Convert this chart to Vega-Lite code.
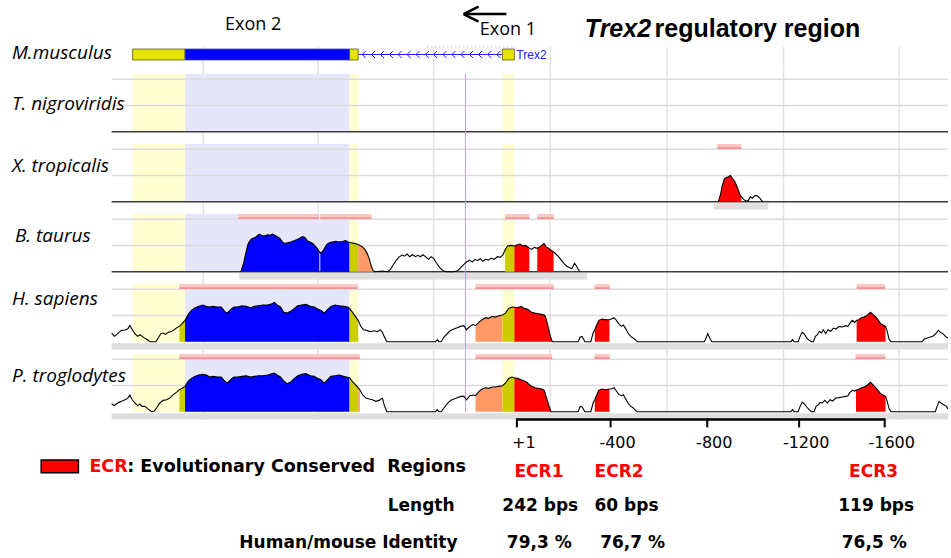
{
"$schema": "https://vega.github.io/schema/vega-lite/v6.json",
"width": 951, "height": 558,
"autosize": {"type": "fit", "contains": "padding"},
"padding": 0,
"background": "white",
"config": {"view": {"stroke": null}},
"datasets": {
"shade": [{"p":63,"p2":221,"c":50,"c2":105.06,"k":"UTR region"},{"p":221,"p2":716,"c":50,"c2":105.06,"k":"exon region"},{"p":716,"p2":742,"c":50,"c2":105.06,"k":"UTR region"},{"p":1176,"p2":1212,"c":50,"c2":105.06,"k":"UTR region"}],
"vgrid": [{"p":276,"c":42.4,"c2":109.2},{"p":621,"c":42.4,"c2":109.2},{"p":969,"c":42.4,"c2":109.2},{"p":1320,"c":42.4,"c2":109.2},{"p":1671,"c":42.4,"c2":109.2},{"p":2022,"c":42.4,"c2":109.2},{"p":2370,"c":42.4,"c2":109.2}],
"hgrid": [{"p":0,"p2":2517,"c":100},{"p":0,"p2":2517,"c":75}],
"base": [{"p":0,"p2":2517,"c":50}],
"marker": [{"p":1065,"c":42.4,"c2":109.2}],
"cover": [{"sp":"X","p":1812,"p2":1976,"c":42.5,"c2":48.6},{"sp":"B","p":384,"p2":1431,"c":42.5,"c2":48.6},{"sp":"H","p":0,"p2":2517,"c":42.5,"c2":48.6},{"sp":"P","p":0,"p2":2517,"c":42.5,"c2":48.6}],
"ecr": [{"sp":"X","p":1822,"p2":1895,"c":100.3,"c2":105.06,"c3":102},{"sp":"B","p":382,"p2":624,"c":100.3,"c2":105.06,"c3":102},{"sp":"B","p":628,"p2":782,"c":100.3,"c2":105.06,"c3":102},{"sp":"B","p":1185,"p2":1257,"c":100.3,"c2":105.06,"c3":102},{"sp":"B","p":1281,"p2":1330,"c":100.3,"c2":105.06,"c3":102},{"sp":"H","p":204,"p2":741,"c":100.3,"c2":105.06,"c3":102},{"sp":"H","p":1095,"p2":1330,"c":100.3,"c2":105.06,"c3":102},{"sp":"H","p":1453,"p2":1499,"c":100.3,"c2":105.06,"c3":102},{"sp":"H","p":2242,"p2":2328,"c":100.3,"c2":105.06,"c3":102},{"sp":"P","p":204,"p2":747,"c":100.3,"c2":105.06,"c3":102},{"sp":"P","p":1095,"p2":1326,"c":100.3,"c2":105.06,"c3":102},{"sp":"P","p":1453,"p2":1499,"c":100.3,"c2":105.06,"c3":102},{"sp":"P","p":2239,"p2":2328,"c":100.3,"c2":105.06,"c3":102}],
"xtro": [{"p":1826,"c":50,"s":"X1","k":"ECR"},{"p":1832,"c":56.4,"s":"X1","k":"ECR"},{"p":1838,"c":65.9,"s":"X1","k":"ECR"},{"p":1844,"c":71.9,"s":"X1","k":"ECR"},{"p":1850,"c":73.2,"s":"X1","k":"ECR"},{"p":1856,"c":73.9,"s":"X1","k":"ECR"},{"p":1862,"c":75.1,"s":"X1","k":"ECR"},{"p":1868,"c":72.3,"s":"X1","k":"ECR"},{"p":1874,"c":70,"s":"X1","k":"ECR"},{"p":1880,"c":65.9,"s":"X1","k":"ECR"},{"p":1886,"c":61.1,"s":"X1","k":"ECR"},{"p":1892,"c":56,"s":"X1","k":"ECR"},{"p":1895,"c":54.8,"s":"X1","k":"ECR"},{"p":1902,"c":52.2},{"p":1909,"c":50.6},{"p":1916,"c":51},{"p":1922,"c":54.8},{"p":1928,"c":53.2},{"p":1934,"c":55.4},{"p":1940,"c":56},{"p":1946,"c":54.8},{"p":1952,"c":52.9},{"p":1956,"c":51},{"p":1960,"c":50}],
"btau": [{"p":389,"c":50,"s":"B1","k":"CDS"},{"p":397,"c":58,"s":"B1","k":"CDS"},{"p":404,"c":68.1,"s":"B1","k":"CDS"},{"p":411,"c":77,"s":"B1","k":"CDS"},{"p":419,"c":80.8,"s":"B1","k":"CDS"},{"p":427,"c":82.1,"s":"B1","k":"CDS"},{"p":435,"c":83.4,"s":"B1","k":"CDS"},{"p":444,"c":85.9,"s":"B1","k":"CDS"},{"p":451,"c":84.7,"s":"B1","k":"CDS"},{"p":459,"c":84,"s":"B1","k":"CDS"},{"p":469,"c":85.3,"s":"B1","k":"CDS"},{"p":477,"c":84.7,"s":"B1","k":"CDS"},{"p":484,"c":85.9,"s":"B1","k":"CDS"},{"p":491,"c":84.7,"s":"B1","k":"CDS"},{"p":499,"c":83.4,"s":"B1","k":"CDS"},{"p":507,"c":81.5,"s":"B1","k":"CDS"},{"p":514,"c":78.3,"s":"B1","k":"CDS"},{"p":521,"c":77,"s":"B1","k":"CDS"},{"p":529,"c":77.7,"s":"B1","k":"CDS"},{"p":539,"c":78.3,"s":"B1","k":"CDS"},{"p":549,"c":79.6,"s":"B1","k":"CDS"},{"p":559,"c":80.8,"s":"B1","k":"CDS"},{"p":567,"c":82.1,"s":"B1","k":"CDS"},{"p":574,"c":83.4,"s":"B1","k":"CDS"},{"p":581,"c":82.8,"s":"B1","k":"CDS"},{"p":589,"c":79.6,"s":"B1","k":"CDS"},{"p":597,"c":78.3,"s":"B1","k":"CDS"},{"p":605,"c":77,"s":"B1","k":"CDS"},{"p":614,"c":73.9,"s":"B1","k":"CDS"},{"p":621,"c":71.3,"s":"B1","k":"CDS"},{"p":625,"c":69,"s":"B1","k":"CDS"},{"p":628,"c":68.1,"s":"B2","k":"CDS"},{"p":633,"c":68.8,"s":"B2","k":"CDS"},{"p":639,"c":71.3,"s":"B2","k":"CDS"},{"p":647,"c":75.8,"s":"B2","k":"CDS"},{"p":655,"c":77.7,"s":"B2","k":"CDS"},{"p":664,"c":78.3,"s":"B2","k":"CDS"},{"p":674,"c":78.9,"s":"B2","k":"CDS"},{"p":684,"c":78.3,"s":"B2","k":"CDS"},{"p":694,"c":78.9,"s":"B2","k":"CDS"},{"p":704,"c":79.6,"s":"B2","k":"CDS"},{"p":712,"c":78.3,"s":"B2","k":"CDS"},{"p":716,"c":77.9,"s":"B2","k":"CDS"},{"p":716,"c":77.9,"s":"B3","k":"UTR"},{"p":731,"c":77,"s":"B3","k":"UTR"},{"p":742,"c":76,"s":"B3","k":"UTR"},{"p":742,"c":76,"s":"B4","k":"intron"},{"p":754,"c":73.9,"s":"B4","k":"intron"},{"p":762,"c":71.3,"s":"B4","k":"intron"},{"p":769,"c":67.5,"s":"B4","k":"intron"},{"p":775,"c":62.7,"s":"B4","k":"intron"},{"p":781,"c":55.4,"s":"B4","k":"intron"},{"p":787,"c":51,"s":"B4","k":"intron"},{"p":794,"c":50},{"p":814,"c":50.6},{"p":831,"c":50},{"p":839,"c":52.2},{"p":847,"c":56.4},{"p":856,"c":60.5},{"p":864,"c":63.7},{"p":874,"c":65.9},{"p":881,"c":64.9},{"p":889,"c":66.9},{"p":897,"c":64.3},{"p":905,"c":66.2},{"p":914,"c":64.3},{"p":922,"c":65.6},{"p":929,"c":64.3},{"p":937,"c":66.2},{"p":947,"c":63.7},{"p":954,"c":61.8},{"p":961,"c":64.3},{"p":969,"c":62.7},{"p":977,"c":58.6},{"p":987,"c":54.1},{"p":997,"c":51},{"p":1009,"c":50},{"p":1029,"c":50},{"p":1041,"c":51},{"p":1051,"c":54.1},{"p":1061,"c":57.3},{"p":1069,"c":59.5},{"p":1077,"c":61.1},{"p":1085,"c":59.2},{"p":1093,"c":61.8},{"p":1101,"c":60.5},{"p":1109,"c":62.4},{"p":1117,"c":59.9},{"p":1125,"c":61.8},{"p":1134,"c":61.1},{"p":1142,"c":63},{"p":1151,"c":61.8},{"p":1161,"c":64.3},{"p":1169,"c":63.7},{"p":1177,"c":65.9},{"p":1184,"c":70.7,"s":"B5","k":"UTR"},{"p":1191,"c":74.5,"s":"B5","k":"UTR"},{"p":1201,"c":75.1,"s":"B5","k":"UTR"},{"p":1212,"c":74.5,"s":"B5","k":"UTR"},{"p":1212,"c":74.5,"s":"B6","k":"ECR"},{"p":1221,"c":75.8,"s":"B6","k":"ECR"},{"p":1229,"c":76.4,"s":"B6","k":"ECR"},{"p":1237,"c":74.5,"s":"B6","k":"ECR"},{"p":1245,"c":75.1,"s":"B6","k":"ECR"},{"p":1257,"c":72.6,"s":"B6","k":"ECR"},{"p":1264,"c":71.3},{"p":1272,"c":73.2},{"p":1281,"c":72.3,"s":"B7","k":"ECR"},{"p":1289,"c":73.9,"s":"B7","k":"ECR"},{"p":1297,"c":75.8,"s":"B7","k":"ECR"},{"p":1301,"c":77,"s":"B7","k":"ECR"},{"p":1307,"c":73.9,"s":"B7","k":"ECR"},{"p":1314,"c":72.6,"s":"B7","k":"ECR"},{"p":1321,"c":70.7,"s":"B7","k":"ECR"},{"p":1330,"c":68.8,"s":"B7","k":"ECR"},{"p":1337,"c":66.9},{"p":1345,"c":64.3},{"p":1353,"c":61.1},{"p":1361,"c":58},{"p":1369,"c":55.4},{"p":1377,"c":54.1},{"p":1385,"c":52.9},{"p":1393,"c":58},{"p":1399,"c":55.4},{"p":1404,"c":52.2},{"p":1409,"c":50}],
"hsap": [{"p":0,"c":58.3},{"p":8,"c":55.1},{"p":15,"c":56.7},{"p":22,"c":58.9},{"p":30,"c":60.8},{"p":40,"c":61.1},{"p":48,"c":62.1},{"p":55,"c":65.6},{"p":62,"c":61.4},{"p":70,"c":57.6},{"p":78,"c":55.1},{"p":85,"c":56.7},{"p":92,"c":55.1},{"p":100,"c":53.2},{"p":108,"c":51.9},{"p":115,"c":50},{"p":133,"c":50},{"p":140,"c":53.5},{"p":148,"c":57.6},{"p":155,"c":58.3},{"p":162,"c":57},{"p":170,"c":58.9},{"p":178,"c":59.5},{"p":186,"c":60.8},{"p":195,"c":63},{"p":204,"c":64.6,"s":"H1","k":"UTR"},{"p":212,"c":67.2,"s":"H1","k":"UTR"},{"p":221,"c":70.4,"s":"H1","k":"UTR"},{"p":221,"c":70.4,"s":"H2","k":"CDS"},{"p":230,"c":75.8,"s":"H2","k":"CDS"},{"p":240,"c":79.9,"s":"H2","k":"CDS"},{"p":250,"c":82.1,"s":"H2","k":"CDS"},{"p":262,"c":83.7,"s":"H2","k":"CDS"},{"p":275,"c":85,"s":"H2","k":"CDS"},{"p":285,"c":83.7,"s":"H2","k":"CDS"},{"p":295,"c":83.1,"s":"H2","k":"CDS"},{"p":305,"c":83.7,"s":"H2","k":"CDS"},{"p":318,"c":83.1,"s":"H2","k":"CDS"},{"p":330,"c":83.1,"s":"H2","k":"CDS"},{"p":340,"c":78.9,"s":"H2","k":"CDS"},{"p":348,"c":77.3,"s":"H2","k":"CDS"},{"p":358,"c":80.5,"s":"H2","k":"CDS"},{"p":368,"c":83.1,"s":"H2","k":"CDS"},{"p":380,"c":83.1,"s":"H2","k":"CDS"},{"p":392,"c":84.3,"s":"H2","k":"CDS"},{"p":405,"c":83.7,"s":"H2","k":"CDS"},{"p":418,"c":82.4,"s":"H2","k":"CDS"},{"p":430,"c":83.7,"s":"H2","k":"CDS"},{"p":442,"c":84.3,"s":"H2","k":"CDS"},{"p":455,"c":85,"s":"H2","k":"CDS"},{"p":470,"c":85,"s":"H2","k":"CDS"},{"p":482,"c":86.3,"s":"H2","k":"CDS"},{"p":490,"c":87.5,"s":"H2","k":"CDS"},{"p":498,"c":85,"s":"H2","k":"CDS"},{"p":508,"c":83.1,"s":"H2","k":"CDS"},{"p":518,"c":78,"s":"H2","k":"CDS"},{"p":528,"c":77.3,"s":"H2","k":"CDS"},{"p":540,"c":79.3,"s":"H2","k":"CDS"},{"p":550,"c":81.8,"s":"H2","k":"CDS"},{"p":560,"c":84.3,"s":"H2","k":"CDS"},{"p":572,"c":85,"s":"H2","k":"CDS"},{"p":585,"c":85.6,"s":"H2","k":"CDS"},{"p":598,"c":83.7,"s":"H2","k":"CDS"},{"p":610,"c":83.1,"s":"H2","k":"CDS"},{"p":620,"c":81.2,"s":"H2","k":"CDS"},{"p":630,"c":79.9,"s":"H2","k":"CDS"},{"p":640,"c":77.3,"s":"H2","k":"CDS"},{"p":650,"c":80.5,"s":"H2","k":"CDS"},{"p":660,"c":83.7,"s":"H2","k":"CDS"},{"p":672,"c":85,"s":"H2","k":"CDS"},{"p":685,"c":84.3,"s":"H2","k":"CDS"},{"p":698,"c":83.7,"s":"H2","k":"CDS"},{"p":710,"c":83.1,"s":"H2","k":"CDS"},{"p":716,"c":81.8,"s":"H2","k":"CDS"},{"p":716,"c":81.8,"s":"H3","k":"UTR"},{"p":725,"c":78,"s":"H3","k":"UTR"},{"p":735,"c":73.5,"s":"H3","k":"UTR"},{"p":742,"c":70.4,"s":"H3","k":"UTR"},{"p":750,"c":64.6},{"p":758,"c":61.4},{"p":768,"c":60.8},{"p":778,"c":59.5},{"p":790,"c":60.5},{"p":800,"c":59.5},{"p":808,"c":61.4},{"p":815,"c":58.9},{"p":820,"c":55.1},{"p":828,"c":50},{"p":975,"c":50},{"p":980,"c":51.9},{"p":985,"c":50},{"p":992,"c":50},{"p":1000,"c":54.5},{"p":1010,"c":57.6},{"p":1020,"c":60.8},{"p":1030,"c":62.1},{"p":1040,"c":63.4},{"p":1050,"c":64.6},{"p":1060,"c":65.3},{"p":1068,"c":61.4},{"p":1078,"c":64.6},{"p":1088,"c":66.5},{"p":1095,"c":65.3,"s":"H4","k":"intron"},{"p":1105,"c":68.4,"s":"H4","k":"intron"},{"p":1115,"c":71,"s":"H4","k":"intron"},{"p":1125,"c":72.9,"s":"H4","k":"intron"},{"p":1135,"c":72.3,"s":"H4","k":"intron"},{"p":1145,"c":74.2,"s":"H4","k":"intron"},{"p":1155,"c":73.5,"s":"H4","k":"intron"},{"p":1165,"c":74.8,"s":"H4","k":"intron"},{"p":1176,"c":75.4,"s":"H4","k":"intron"},{"p":1176,"c":75.4,"s":"H5","k":"UTR"},{"p":1185,"c":77.3,"s":"H5","k":"UTR"},{"p":1195,"c":81.8,"s":"H5","k":"UTR"},{"p":1205,"c":83.1,"s":"H5","k":"UTR"},{"p":1212,"c":82.8,"s":"H5","k":"UTR"},{"p":1212,"c":82.8,"s":"H6","k":"ECR"},{"p":1222,"c":82.4,"s":"H6","k":"ECR"},{"p":1232,"c":83.7,"s":"H6","k":"ECR"},{"p":1242,"c":81.8,"s":"H6","k":"ECR"},{"p":1250,"c":81.2,"s":"H6","k":"ECR"},{"p":1254,"c":80.5,"s":"H6","k":"ECR"},{"p":1264,"c":78,"s":"H6","k":"ECR"},{"p":1274,"c":77.3,"s":"H6","k":"ECR"},{"p":1284,"c":76.7,"s":"H6","k":"ECR"},{"p":1294,"c":76.1,"s":"H6","k":"ECR"},{"p":1302,"c":75.4,"s":"H6","k":"ECR"},{"p":1306,"c":73.5,"s":"H6","k":"ECR"},{"p":1312,"c":66.2,"s":"H6","k":"ECR"},{"p":1319,"c":56.7,"s":"H6","k":"ECR"},{"p":1326,"c":50,"s":"H6","k":"ECR"},{"p":1404,"c":50},{"p":1410,"c":54.5},{"p":1416,"c":55.1},{"p":1424,"c":50},{"p":1442,"c":50},{"p":1449,"c":58.3},{"p":1454,"c":61.4,"s":"H7","k":"ECR"},{"p":1459,"c":65.3,"s":"H7","k":"ECR"},{"p":1466,"c":70.4,"s":"H7","k":"ECR"},{"p":1476,"c":71.6,"s":"H7","k":"ECR"},{"p":1486,"c":71,"s":"H7","k":"ECR"},{"p":1498,"c":71,"s":"H7","k":"ECR"},{"p":1504,"c":71.6},{"p":1512,"c":72.9},{"p":1519,"c":70.4},{"p":1526,"c":67.2},{"p":1534,"c":64.6},{"p":1540,"c":65.9},{"p":1546,"c":63},{"p":1554,"c":58.3},{"p":1562,"c":55.1},{"p":1569,"c":53.5},{"p":1576,"c":51.9},{"p":1582,"c":50},{"p":1784,"c":50},{"p":1789,"c":53.5},{"p":1794,"c":57.6},{"p":1800,"c":53.5},{"p":1806,"c":50},{"p":2044,"c":50},{"p":2049,"c":51.9},{"p":2054,"c":50},{"p":2066,"c":50},{"p":2072,"c":55.1},{"p":2078,"c":58.9},{"p":2084,"c":57.6},{"p":2092,"c":53.5},{"p":2099,"c":51.3},{"p":2106,"c":50},{"p":2112,"c":50},{"p":2118,"c":55.1},{"p":2124,"c":56.7},{"p":2130,"c":59.9},{"p":2136,"c":58.3},{"p":2142,"c":61.4},{"p":2149,"c":57.6},{"p":2156,"c":61.4},{"p":2164,"c":59.9},{"p":2172,"c":63},{"p":2180,"c":62.1},{"p":2189,"c":64.6},{"p":2199,"c":64},{"p":2209,"c":65.3},{"p":2216,"c":64.6},{"p":2222,"c":67.8},{"p":2229,"c":70.4},{"p":2236,"c":68.4},{"p":2242,"c":70.4,"s":"H8","k":"ECR"},{"p":2249,"c":71,"s":"H8","k":"ECR"},{"p":2256,"c":72.9,"s":"H8","k":"ECR"},{"p":2264,"c":73.5,"s":"H8","k":"ECR"},{"p":2272,"c":74.8,"s":"H8","k":"ECR"},{"p":2279,"c":76.7,"s":"H8","k":"ECR"},{"p":2284,"c":78,"s":"H8","k":"ECR"},{"p":2290,"c":76.1,"s":"H8","k":"ECR"},{"p":2298,"c":74.2,"s":"H8","k":"ECR"},{"p":2306,"c":71,"s":"H8","k":"ECR"},{"p":2314,"c":67.2,"s":"H8","k":"ECR"},{"p":2322,"c":65.9,"s":"H8","k":"ECR"},{"p":2329,"c":64.6,"s":"H8","k":"ECR"},{"p":2334,"c":59.9},{"p":2340,"c":51.9},{"p":2346,"c":50},{"p":2439,"c":50},{"p":2446,"c":52.5},{"p":2454,"c":53.5},{"p":2464,"c":54.5},{"p":2474,"c":55.7},{"p":2482,"c":58.3},{"p":2488,"c":60.8},{"p":2494,"c":58.9},{"p":2502,"c":57.6},{"p":2509,"c":55.1},{"p":2517,"c":53.5}],
"ptro": [{"p":0,"c":57.6},{"p":8,"c":55.7},{"p":15,"c":57.6},{"p":22,"c":58.9},{"p":30,"c":59.9},{"p":40,"c":61.4},{"p":48,"c":62.7},{"p":55,"c":65.9},{"p":62,"c":61.4},{"p":70,"c":58.3},{"p":78,"c":55.7},{"p":85,"c":57.3},{"p":92,"c":55.1},{"p":100,"c":55.1},{"p":110,"c":52.5},{"p":120,"c":50},{"p":128,"c":50.6},{"p":135,"c":53.5},{"p":145,"c":58.3},{"p":155,"c":60.8},{"p":165,"c":61.4},{"p":175,"c":63},{"p":185,"c":66.2},{"p":195,"c":68.4},{"p":204,"c":71,"s":"P1","k":"UTR"},{"p":212,"c":72.3,"s":"P1","k":"UTR"},{"p":221,"c":74.2,"s":"P1","k":"UTR"},{"p":221,"c":74.2,"s":"P2","k":"CDS"},{"p":230,"c":78.9,"s":"P2","k":"CDS"},{"p":240,"c":81.8,"s":"P2","k":"CDS"},{"p":250,"c":83.7,"s":"P2","k":"CDS"},{"p":262,"c":85,"s":"P2","k":"CDS"},{"p":275,"c":85.6,"s":"P2","k":"CDS"},{"p":285,"c":85,"s":"P2","k":"CDS"},{"p":295,"c":83.1,"s":"P2","k":"CDS"},{"p":305,"c":83.7,"s":"P2","k":"CDS"},{"p":318,"c":83.1,"s":"P2","k":"CDS"},{"p":330,"c":83.1,"s":"P2","k":"CDS"},{"p":340,"c":79.3,"s":"P2","k":"CDS"},{"p":348,"c":77.3,"s":"P2","k":"CDS"},{"p":358,"c":80.5,"s":"P2","k":"CDS"},{"p":368,"c":83.1,"s":"P2","k":"CDS"},{"p":380,"c":83.1,"s":"P2","k":"CDS"},{"p":392,"c":83.7,"s":"P2","k":"CDS"},{"p":405,"c":84.3,"s":"P2","k":"CDS"},{"p":418,"c":83.1,"s":"P2","k":"CDS"},{"p":430,"c":83.7,"s":"P2","k":"CDS"},{"p":442,"c":84.3,"s":"P2","k":"CDS"},{"p":455,"c":84.3,"s":"P2","k":"CDS"},{"p":470,"c":85,"s":"P2","k":"CDS"},{"p":482,"c":86.3,"s":"P2","k":"CDS"},{"p":490,"c":86.9,"s":"P2","k":"CDS"},{"p":498,"c":85,"s":"P2","k":"CDS"},{"p":508,"c":83.1,"s":"P2","k":"CDS"},{"p":518,"c":79.3,"s":"P2","k":"CDS"},{"p":528,"c":76.7,"s":"P2","k":"CDS"},{"p":540,"c":78.6,"s":"P2","k":"CDS"},{"p":550,"c":81.8,"s":"P2","k":"CDS"},{"p":560,"c":84.3,"s":"P2","k":"CDS"},{"p":572,"c":85.6,"s":"P2","k":"CDS"},{"p":585,"c":86.3,"s":"P2","k":"CDS"},{"p":598,"c":84.3,"s":"P2","k":"CDS"},{"p":610,"c":83.7,"s":"P2","k":"CDS"},{"p":620,"c":81.8,"s":"P2","k":"CDS"},{"p":630,"c":80.5,"s":"P2","k":"CDS"},{"p":640,"c":77.3,"s":"P2","k":"CDS"},{"p":650,"c":80.5,"s":"P2","k":"CDS"},{"p":660,"c":83.7,"s":"P2","k":"CDS"},{"p":672,"c":84.3,"s":"P2","k":"CDS"},{"p":685,"c":85,"s":"P2","k":"CDS"},{"p":698,"c":83.7,"s":"P2","k":"CDS"},{"p":716,"c":82.4,"s":"P2","k":"CDS"},{"p":716,"c":82.4,"s":"P3","k":"UTR"},{"p":725,"c":78.6,"s":"P3","k":"UTR"},{"p":735,"c":75.4,"s":"P3","k":"UTR"},{"p":742,"c":73,"s":"P3","k":"UTR"},{"p":742,"c":73,"s":"P3b","k":"intron"},{"p":747,"c":71,"s":"P3b","k":"intron"},{"p":755,"c":66.2},{"p":765,"c":63},{"p":775,"c":62.1},{"p":785,"c":61.4},{"p":795,"c":59.9},{"p":805,"c":60.8},{"p":815,"c":63},{"p":820,"c":56.7},{"p":828,"c":50},{"p":975,"c":50},{"p":980,"c":51.9},{"p":985,"c":50},{"p":992,"c":50},{"p":1000,"c":53.5},{"p":1010,"c":57.6},{"p":1020,"c":60.8},{"p":1030,"c":62.1},{"p":1040,"c":63.4},{"p":1050,"c":64.6},{"p":1060,"c":64.6},{"p":1068,"c":61.4},{"p":1078,"c":65.3},{"p":1088,"c":65.9},{"p":1095,"c":65.3,"s":"P4","k":"intron"},{"p":1105,"c":69.1,"s":"P4","k":"intron"},{"p":1115,"c":71.6,"s":"P4","k":"intron"},{"p":1125,"c":72.9,"s":"P4","k":"intron"},{"p":1135,"c":72.3,"s":"P4","k":"intron"},{"p":1145,"c":73.5,"s":"P4","k":"intron"},{"p":1155,"c":73.5,"s":"P4","k":"intron"},{"p":1165,"c":74.2,"s":"P4","k":"intron"},{"p":1176,"c":74.8,"s":"P4","k":"intron"},{"p":1176,"c":74.8,"s":"P5","k":"UTR"},{"p":1185,"c":77.3,"s":"P5","k":"UTR"},{"p":1195,"c":81.8,"s":"P5","k":"UTR"},{"p":1205,"c":83.1,"s":"P5","k":"UTR"},{"p":1212,"c":82.4,"s":"P5","k":"UTR"},{"p":1212,"c":82.4,"s":"P6","k":"ECR"},{"p":1222,"c":81.8,"s":"P6","k":"ECR"},{"p":1232,"c":80.5,"s":"P6","k":"ECR"},{"p":1242,"c":79.3,"s":"P6","k":"ECR"},{"p":1250,"c":78,"s":"P6","k":"ECR"},{"p":1254,"c":76.7,"s":"P6","k":"ECR"},{"p":1264,"c":74.2,"s":"P6","k":"ECR"},{"p":1274,"c":72.9,"s":"P6","k":"ECR"},{"p":1284,"c":72.3,"s":"P6","k":"ECR"},{"p":1294,"c":71.6,"s":"P6","k":"ECR"},{"p":1302,"c":70.4,"s":"P6","k":"ECR"},{"p":1309,"c":63,"s":"P6","k":"ECR"},{"p":1316,"c":55.7,"s":"P6","k":"ECR"},{"p":1322,"c":50,"s":"P6","k":"ECR"},{"p":1404,"c":50},{"p":1410,"c":55.1},{"p":1416,"c":54.5},{"p":1424,"c":50},{"p":1442,"c":50},{"p":1449,"c":58.3},{"p":1454,"c":61.4,"s":"P7","k":"ECR"},{"p":1459,"c":65.3,"s":"P7","k":"ECR"},{"p":1466,"c":70.4,"s":"P7","k":"ECR"},{"p":1476,"c":71.6,"s":"P7","k":"ECR"},{"p":1486,"c":71,"s":"P7","k":"ECR"},{"p":1498,"c":71.6,"s":"P7","k":"ECR"},{"p":1504,"c":71.6},{"p":1512,"c":72.9},{"p":1519,"c":69.7},{"p":1526,"c":66.5},{"p":1534,"c":65.3},{"p":1540,"c":66.2},{"p":1546,"c":62.7},{"p":1554,"c":58.3},{"p":1562,"c":55.1},{"p":1569,"c":53.8},{"p":1576,"c":51.3},{"p":1582,"c":50},{"p":2044,"c":50},{"p":2049,"c":51.9},{"p":2054,"c":50},{"p":2066,"c":50},{"p":2072,"c":55.1},{"p":2078,"c":58.9},{"p":2084,"c":57.6},{"p":2092,"c":54.5},{"p":2099,"c":51.9},{"p":2106,"c":50},{"p":2114,"c":50},{"p":2120,"c":55.1},{"p":2126,"c":56.4},{"p":2132,"c":58.9},{"p":2139,"c":58.3},{"p":2146,"c":60.8},{"p":2154,"c":58.3},{"p":2162,"c":61.4},{"p":2170,"c":60.2},{"p":2179,"c":63},{"p":2189,"c":63.4},{"p":2199,"c":64},{"p":2209,"c":64.6},{"p":2216,"c":65.3},{"p":2222,"c":68.4},{"p":2229,"c":70.4},{"p":2236,"c":69.7},{"p":2240,"c":70.4,"s":"P8","k":"ECR"},{"p":2249,"c":71.6,"s":"P8","k":"ECR"},{"p":2256,"c":72.6,"s":"P8","k":"ECR"},{"p":2264,"c":73.5,"s":"P8","k":"ECR"},{"p":2272,"c":74.8,"s":"P8","k":"ECR"},{"p":2279,"c":76.7,"s":"P8","k":"ECR"},{"p":2284,"c":78,"s":"P8","k":"ECR"},{"p":2290,"c":76.1,"s":"P8","k":"ECR"},{"p":2298,"c":73.5,"s":"P8","k":"ECR"},{"p":2306,"c":70.4,"s":"P8","k":"ECR"},{"p":2314,"c":67.2,"s":"P8","k":"ECR"},{"p":2322,"c":65.9,"s":"P8","k":"ECR"},{"p":2329,"c":64.6,"s":"P8","k":"ECR"},{"p":2334,"c":59.9},{"p":2340,"c":52.5},{"p":2346,"c":50},{"p":2479,"c":50},{"p":2484,"c":55.1},{"p":2490,"c":59.9},{"p":2496,"c":58.3},{"p":2504,"c":56.7},{"p":2512,"c":55.1},{"p":2517,"c":52.5}]
},
"encoding": {"x": {"field": "p", "type": "quantitative", "scale": {"domain": [-336, 2517], "nice": false, "zero": false}, "axis": null}},
"resolve": {"scale": {"y": "independent"}},
"layer": [
{
"encoding": {"y": {"field": "c", "type": "quantitative", "scale": {"domain": [-45.77, 4.955], "nice": false, "zero": false}, "axis": null}},
"layer": [
{"data": {"values": [{"p":276,"c":0.68,"c2":-1.38},{"p":621,"c":0.68,"c2":-1.38},{"p":969,"c":0.68,"c2":-1.38},{"p":1320,"c":0.68,"c2":-1.38},{"p":1671,"c":0.68,"c2":-1.38},{"p":2022,"c":0.68,"c2":-1.38},{"p":2370,"c":0.68,"c2":-1.38}]}, "mark": {"type": "rule", "color": "#e3e3e3", "strokeWidth": 1.5}, "encoding": {"y2": {"field": "c2"}}},
{"data": {"values": [{"p": 948, "p2": 1215, "c": 0.68}]}, "mark": {"type": "rule", "color": "#c4c4c4", "strokeWidth": 1, "strokeDash": [2, 2]}, "encoding": {"x2": {"field": "p2"}}},
{"data": {"values": [{"p": 742, "p2": 1176, "c": 0}]}, "mark": {"type": "rule", "color": "#2020ff", "strokeWidth": 1}, "encoding": {"x2": {"field": "p2"}}},
{"data": {"values": [{"p":754,"c":0},{"p":782,"c":0},{"p":809,"c":0},{"p":836,"c":0},{"p":862,"c":0},{"p":889,"c":0},{"p":916,"c":0},{"p":944,"c":0},{"p":969,"c":0},{"p":997,"c":0},{"p":1024,"c":0},{"p":1051,"c":0},{"p":1077,"c":0},{"p":1104,"c":0},{"p":1132,"c":0},{"p":1159,"c":0}]}, "mark": {"type": "point", "shape": "M1,-1L0,0L1,1", "size": 49, "filled": false, "stroke": "#2020ff", "strokeWidth": 1, "opacity": 1}, "encoding": {}},
{"data": {"values": [{"p": 63, "p2": 221, "c": -0.5, "c2": 0.5}, {"p": 716, "p2": 742, "c": -0.5, "c2": 0.5}, {"p": 1176, "p2": 1212, "c": -0.5, "c2": 0.5}]}, "mark": {"type": "rect", "color": "#e4e400", "stroke": "#5a5a20", "strokeWidth": 0.8}, "encoding": {"x2": {"field": "p2"}, "y2": {"field": "c2"}}},
{"data": {"values": [{"p": 221, "p2": 716, "c": -0.5, "c2": 0.5}]}, "mark": {"type": "rect", "color": "#0000ff", "stroke": "#4a4ab0", "strokeWidth": 0.8}, "encoding": {"x2": {"field": "p2"}, "y2": {"field": "c2"}}},
{"data": {"values": [{"p": 1218, "c": 0, "t": "Trex2"}]}, "mark": {"type": "text", "align": "left", "baseline": "middle", "font": "Liberation Sans", "fontSize": 12, "color": "#2020ff"}, "encoding": {"text": {"field": "t"}}},
{"data": {"values": [{"p": -300, "c": 0.1, "t": "M.musculus"}]}, "mark": {"type": "text", "align": "left", "baseline": "middle", "font": "Open Sans", "fontStyle": "italic", "fontSize": 19, "color": "#000"}, "encoding": {"text": {"field": "t"}}},
{"data": {"values": [{"p": 426, "c": 2.64, "t": "Exon 2"}, {"p": 1192.5, "c": 2.23, "t": "Exon 1"}]}, "mark": {"type": "text", "align": "center", "baseline": "middle", "font": "Open Sans", "fontSize": 18, "color": "#000"}, "encoding": {"text": {"field": "t"}}},
{"data": {"values": [{"p": 1061, "p2": 1188, "c": 3.68}]}, "mark": {"type": "rule", "color": "#000", "strokeWidth": 2.5}, "encoding": {"x2": {"field": "p2"}}},
{"data": {"values": [{"p": 1059, "c": 3.68}]}, "mark": {"type": "point", "shape": "M0,0L2,-1M0,0L2,1", "size": 225, "filled": false, "stroke": "#000", "strokeWidth": 2.5, "opacity": 1}, "encoding": {}},
{"data": {"values": [{"p": 1424, "c": 1.6, "t": "Trex2"}]}, "mark": {"type": "text", "align": "left", "baseline": "alphabetic", "font": "Liberation Sans", "fontSize": 25, "fontWeight": "bold", "fontStyle": "italic", "color": "#000"}, "encoding": {"text": {"field": "t"}}},
{"data": {"values": [{"p": 1634, "c": 1.6, "t": "regulatory region"}]}, "mark": {"type": "text", "align": "left", "baseline": "alphabetic", "font": "Liberation Sans", "fontSize": 25, "fontWeight": "bold", "color": "#000"}, "encoding": {"text": {"field": "t"}}}
]
},
{
"encoding": {"y": {"field": "c", "type": "quantitative", "scale": {"domain": [-356.77, 175.67], "nice": false, "zero": false}, "axis": null}},
"layer": [
{"data": {"name": "vgrid"}, "mark": {"type": "rule", "color": "#e3e3e3", "strokeWidth": 1.5}, "encoding": {"y2": {"field": "c2"}}},
{"data": {"name": "shade"}, "mark": {"type": "rect"}, "encoding": {"x2": {"field": "p2"}, "y2": {"field": "c2"}, "color": {"field": "k", "type": "nominal", "legend": null, "scale": {"domain": ["CDS", "UTR", "intron", "ECR", "UTR region", "exon region"], "range": ["#0000ff", "#cccc00", "#ff9966", "#ff0000", "#ffffd2", "#e6e6fa"]}}}},
{"data": {"name": "hgrid"}, "mark": {"type": "rule", "color": "#dcdcdc", "strokeWidth": 1.5}, "encoding": {"x2": {"field": "p2"}}},
{"data": {"name": "base"}, "mark": {"type": "rule", "color": "#3c3c3c", "strokeWidth": 1.5}, "encoding": {"x2": {"field": "p2"}}},
{"data": {"values": [{"p": 1065, "c": 42.4, "c2": 105.7}]}, "mark": {"type": "rule", "color": "#ea88ea", "strokeWidth": 1}, "encoding": {"y2": {"field": "c2"}}},
{"data": {"values": [{"p": -300, "c": 76.1, "t": "T. nigroviridis"}]}, "mark": {"type": "text", "align": "left", "baseline": "middle", "font": "Open Sans", "fontStyle": "italic", "fontSize": 19, "color": "#000"}, "encoding": {"text": {"field": "t"}}}
]
},
{
"encoding": {"y": {"field": "c", "type": "quantitative", "scale": {"domain": [-289.98, 242.46], "nice": false, "zero": false}, "axis": null}},
"layer": [
{"data": {"name": "vgrid"}, "mark": {"type": "rule", "color": "#e3e3e3", "strokeWidth": 1.5}, "encoding": {"y2": {"field": "c2"}}},
{"data": {"name": "shade"}, "mark": {"type": "rect"}, "encoding": {"x2": {"field": "p2"}, "y2": {"field": "c2"}, "color": {"field": "k", "type": "nominal", "legend": null, "scale": {"domain": ["CDS", "UTR", "intron", "ECR", "UTR region", "exon region"], "range": ["#0000ff", "#cccc00", "#ff9966", "#ff0000", "#ffffd2", "#e6e6fa"]}}}},
{"data": {"name": "hgrid"}, "mark": {"type": "rule", "color": "#dcdcdc", "strokeWidth": 1.5}, "encoding": {"x2": {"field": "p2"}}},
{"data": {"name": "base"}, "mark": {"type": "rule", "color": "#3c3c3c", "strokeWidth": 1.5}, "encoding": {"x2": {"field": "p2"}}},
{"data": {"name": "cover"}, "transform": [{"filter": "datum.sp === 'X'"}], "mark": {"type": "rect", "color": "#dedede"}, "encoding": {"x2": {"field": "p2"}, "y2": {"field": "c2"}}},
{"data": {"name": "marker"}, "mark": {"type": "rule", "color": "#ea88ea", "strokeWidth": 1}, "encoding": {"y2": {"field": "c2"}}},
{"data": {"name": "ecr"}, "transform": [{"filter": "datum.sp === 'X'"}], "mark": {"type": "rect", "color": "#ffc6c6"}, "encoding": {"x2": {"field": "p2"}, "y2": {"field": "c2"}}},
{"data": {"name": "ecr"}, "transform": [{"filter": "datum.sp === 'X'"}], "mark": {"type": "rect", "color": "#f29494"}, "encoding": {"x2": {"field": "p2"}, "y2": {"field": "c3"}}},
{"data": {"name": "xtro"}, "transform": [{"filter": "isValid(datum.s)"}], "mark": {"type": "area", "opacity": 1}, "encoding": {"y2": {"datum": 50}, "detail": {"field": "s"}, "color": {"field": "k", "type": "nominal", "legend": null, "scale": {"domain": ["CDS", "UTR", "intron", "ECR", "UTR region", "exon region"], "range": ["#0000ff", "#cccc00", "#ff9966", "#ff0000", "#ffffd2", "#e6e6fa"]}}}},
{"data": {"name": "xtro"}, "mark": {"type": "line", "color": "#000", "strokeWidth": 1.1}, "encoding": {}},
{"data": {"values": [{"p": -300, "c": 84.1, "t": "X. tropicalis"}]}, "mark": {"type": "text", "align": "left", "baseline": "middle", "font": "Open Sans", "fontStyle": "italic", "fontSize": 19, "color": "#000"}, "encoding": {"text": {"field": "t"}}}
]
},
{
"encoding": {"y": {"field": "c", "type": "quantitative", "scale": {"domain": [-223.18, 309.26], "nice": false, "zero": false}, "axis": null}},
"layer": [
{"data": {"name": "vgrid"}, "mark": {"type": "rule", "color": "#e3e3e3", "strokeWidth": 1.5}, "encoding": {"y2": {"field": "c2"}}},
{"data": {"name": "shade"}, "mark": {"type": "rect"}, "encoding": {"x2": {"field": "p2"}, "y2": {"field": "c2"}, "color": {"field": "k", "type": "nominal", "legend": null, "scale": {"domain": ["CDS", "UTR", "intron", "ECR", "UTR region", "exon region"], "range": ["#0000ff", "#cccc00", "#ff9966", "#ff0000", "#ffffd2", "#e6e6fa"]}}}},
{"data": {"name": "hgrid"}, "mark": {"type": "rule", "color": "#dcdcdc", "strokeWidth": 1.5}, "encoding": {"x2": {"field": "p2"}}},
{"data": {"name": "base"}, "mark": {"type": "rule", "color": "#3c3c3c", "strokeWidth": 1.5}, "encoding": {"x2": {"field": "p2"}}},
{"data": {"name": "cover"}, "transform": [{"filter": "datum.sp === 'B'"}], "mark": {"type": "rect", "color": "#dedede"}, "encoding": {"x2": {"field": "p2"}, "y2": {"field": "c2"}}},
{"data": {"name": "marker"}, "mark": {"type": "rule", "color": "#ea88ea", "strokeWidth": 1}, "encoding": {"y2": {"field": "c2"}}},
{"data": {"name": "ecr"}, "transform": [{"filter": "datum.sp === 'B'"}], "mark": {"type": "rect", "color": "#ffc6c6"}, "encoding": {"x2": {"field": "p2"}, "y2": {"field": "c2"}}},
{"data": {"name": "ecr"}, "transform": [{"filter": "datum.sp === 'B'"}], "mark": {"type": "rect", "color": "#f29494"}, "encoding": {"x2": {"field": "p2"}, "y2": {"field": "c3"}}},
{"data": {"name": "btau"}, "transform": [{"filter": "isValid(datum.s)"}], "mark": {"type": "area", "opacity": 1}, "encoding": {"y2": {"datum": 50}, "detail": {"field": "s"}, "color": {"field": "k", "type": "nominal", "legend": null, "scale": {"domain": ["CDS", "UTR", "intron", "ECR", "UTR region", "exon region"], "range": ["#0000ff", "#cccc00", "#ff9966", "#ff0000", "#ffffd2", "#e6e6fa"]}}}},
{"data": {"name": "btau"}, "mark": {"type": "line", "color": "#000", "strokeWidth": 1.1}, "encoding": {}},
{"data": {"values": [{"p": -291, "c": 84.1, "t": "B. taurus"}]}, "mark": {"type": "text", "align": "left", "baseline": "middle", "font": "Open Sans", "fontStyle": "italic", "fontSize": 19, "color": "#000"}, "encoding": {"text": {"field": "t"}}}
]
},
{
"encoding": {"y": {"field": "c", "type": "quantitative", "scale": {"domain": [-156.39, 376.05], "nice": false, "zero": false}, "axis": null}},
"layer": [
{"data": {"name": "vgrid"}, "mark": {"type": "rule", "color": "#e3e3e3", "strokeWidth": 1.5}, "encoding": {"y2": {"field": "c2"}}},
{"data": {"name": "shade"}, "mark": {"type": "rect"}, "encoding": {"x2": {"field": "p2"}, "y2": {"field": "c2"}, "color": {"field": "k", "type": "nominal", "legend": null, "scale": {"domain": ["CDS", "UTR", "intron", "ECR", "UTR region", "exon region"], "range": ["#0000ff", "#cccc00", "#ff9966", "#ff0000", "#ffffd2", "#e6e6fa"]}}}},
{"data": {"name": "hgrid"}, "mark": {"type": "rule", "color": "#dcdcdc", "strokeWidth": 1.5}, "encoding": {"x2": {"field": "p2"}}},
{"data": {"name": "cover"}, "transform": [{"filter": "datum.sp === 'H'"}], "mark": {"type": "rect", "color": "#dedede"}, "encoding": {"x2": {"field": "p2"}, "y2": {"field": "c2"}}},
{"data": {"name": "marker"}, "mark": {"type": "rule", "color": "#ea88ea", "strokeWidth": 1}, "encoding": {"y2": {"field": "c2"}}},
{"data": {"name": "ecr"}, "transform": [{"filter": "datum.sp === 'H'"}], "mark": {"type": "rect", "color": "#ffc6c6"}, "encoding": {"x2": {"field": "p2"}, "y2": {"field": "c2"}}},
{"data": {"name": "ecr"}, "transform": [{"filter": "datum.sp === 'H'"}], "mark": {"type": "rect", "color": "#f29494"}, "encoding": {"x2": {"field": "p2"}, "y2": {"field": "c3"}}},
{"data": {"name": "hsap"}, "transform": [{"filter": "isValid(datum.s)"}], "mark": {"type": "area", "opacity": 1}, "encoding": {"y2": {"datum": 50}, "detail": {"field": "s"}, "color": {"field": "k", "type": "nominal", "legend": null, "scale": {"domain": ["CDS", "UTR", "intron", "ECR", "UTR region", "exon region"], "range": ["#0000ff", "#cccc00", "#ff9966", "#ff0000", "#ffffd2", "#e6e6fa"]}}}},
{"data": {"name": "hsap"}, "mark": {"type": "line", "color": "#000", "strokeWidth": 1.1}, "encoding": {}},
{"data": {"values": [{"p": -300, "c": 91, "t": "H. sapiens"}]}, "mark": {"type": "text", "align": "left", "baseline": "middle", "font": "Open Sans", "fontStyle": "italic", "fontSize": 19, "color": "#000"}, "encoding": {"text": {"field": "t"}}}
]
},
{
"encoding": {"y": {"field": "c", "type": "quantitative", "scale": {"domain": [-89.6, 442.84], "nice": false, "zero": false}, "axis": null}},
"layer": [
{"data": {"name": "vgrid"}, "mark": {"type": "rule", "color": "#e3e3e3", "strokeWidth": 1.5}, "encoding": {"y2": {"field": "c2"}}},
{"data": {"name": "shade"}, "mark": {"type": "rect"}, "encoding": {"x2": {"field": "p2"}, "y2": {"field": "c2"}, "color": {"field": "k", "type": "nominal", "legend": null, "scale": {"domain": ["CDS", "UTR", "intron", "ECR", "UTR region", "exon region"], "range": ["#0000ff", "#cccc00", "#ff9966", "#ff0000", "#ffffd2", "#e6e6fa"]}}}},
{"data": {"name": "hgrid"}, "mark": {"type": "rule", "color": "#dcdcdc", "strokeWidth": 1.5}, "encoding": {"x2": {"field": "p2"}}},
{"data": {"name": "cover"}, "transform": [{"filter": "datum.sp === 'P'"}], "mark": {"type": "rect", "color": "#dedede"}, "encoding": {"x2": {"field": "p2"}, "y2": {"field": "c2"}}},
{"data": {"values": [{"p": 1065, "c": 49.7, "c2": 109.2}]}, "mark": {"type": "rule", "color": "#ea88ea", "strokeWidth": 1}, "encoding": {"y2": {"field": "c2"}}},
{"data": {"name": "ecr"}, "transform": [{"filter": "datum.sp === 'P'"}], "mark": {"type": "rect", "color": "#ffc6c6"}, "encoding": {"x2": {"field": "p2"}, "y2": {"field": "c2"}}},
{"data": {"name": "ecr"}, "transform": [{"filter": "datum.sp === 'P'"}], "mark": {"type": "rect", "color": "#f29494"}, "encoding": {"x2": {"field": "p2"}, "y2": {"field": "c3"}}},
{"data": {"name": "ptro"}, "transform": [{"filter": "isValid(datum.s)"}], "mark": {"type": "area", "opacity": 1}, "encoding": {"y2": {"datum": 50}, "detail": {"field": "s"}, "color": {"field": "k", "type": "nominal", "legend": null, "scale": {"domain": ["CDS", "UTR", "intron", "ECR", "UTR region", "exon region"], "range": ["#0000ff", "#cccc00", "#ff9966", "#ff0000", "#ffffd2", "#e6e6fa"]}}}},
{"data": {"name": "ptro"}, "mark": {"type": "line", "color": "#000", "strokeWidth": 1.1}, "encoding": {}},
{"data": {"values": [{"p": -300, "c": 84.1, "t": "P. troglodytes"}]}, "mark": {"type": "text", "align": "left", "baseline": "middle", "font": "Open Sans", "fontStyle": "italic", "fontSize": 19, "color": "#000"}, "encoding": {"text": {"field": "t"}}}
]
},
{
"encoding": {"y": {"field": "c", "type": "quantitative", "scale": {"domain": [-14.767, 3.833], "reverse": true, "nice": false, "zero": false}, "axis": null}},
"layer": [
{"data": {"values": [{"p": 1219.5, "p2": 2326.5, "c": -0.78}]}, "mark": {"type": "rule", "color": "#000", "strokeWidth": 2.5}, "encoding": {"x2": {"field": "p2"}}},
{"data": {"values": [{"p": 1219.5, "c": -0.82, "c2": -0.52}, {"p": 1501.5, "c": -0.82, "c2": -0.52}, {"p": 1792.5, "c": -0.82, "c2": -0.52}, {"p": 2069, "c": -0.82, "c2": -0.52}, {"p": 2326.5, "c": -0.82, "c2": -0.52}]}, "mark": {"type": "rule", "color": "#000", "strokeWidth": 2}, "encoding": {"y2": {"field": "c2"}}},
{"data": {"values": [{"p": 1219.5, "c": 0, "t": "+1"}, {"p": 1501.5, "c": 0, "t": "-400"}, {"p": 1792.5, "c": 0, "t": "-800"}, {"p": 2069, "c": 0, "t": "-1200"}, {"p": 2326.5, "c": 0, "t": "-1600"}]}, "mark": {"type": "text", "align": "center", "baseline": "middle", "dx": 7, "font": "DejaVu Sans", "fontSize": 16, "color": "#000"}, "encoding": {"text": {"field": "t"}}},
{"data": {"values": [{"p": -212, "p2": -100, "c": 0.567, "c2": 0.99}]}, "mark": {"type": "rect", "color": "#ff0000", "stroke": "#000", "strokeWidth": 1.5}, "encoding": {"x2": {"field": "p2"}, "y2": {"field": "c2"}}},
{"data": {"values": [{"p": -67, "c": 0.79, "t": "ECR"}]}, "mark": {"type": "text", "align": "left", "baseline": "middle", "font": "DejaVu Sans", "fontWeight": "bold", "fontSize": 17.5, "color": "#ff0000"}, "encoding": {"text": {"field": "t"}}},
{"data": {"values": [{"p": 47, "c": 0.79, "t": ": Evolutionary Conserved\u00a0\u00a0Regions"}]}, "mark": {"type": "text", "align": "left", "baseline": "middle", "font": "DejaVu Sans", "fontWeight": "bold", "fontSize": 17.5, "color": "#000"}, "encoding": {"text": {"field": "t"}}},
{"data": {"values": [{"p": 1286, "c": 0.957, "t": "ECR1"}, {"p": 1527, "c": 0.957, "t": "ECR2"}, {"p": 2293, "c": 0.957, "t": "ECR3"}]}, "mark": {"type": "text", "align": "center", "baseline": "middle", "font": "DejaVu Sans", "fontWeight": "bold", "fontSize": 17, "color": "#ff0000"}, "encoding": {"text": {"field": "t"}}},
{"data": {"values": [{"p": 1032, "c": 2.09, "t": "Length"}, {"p": 1041, "c": 3.343, "t": "Human/mouse Identity"}]}, "mark": {"type": "text", "align": "right", "baseline": "middle", "font": "DejaVu Sans", "fontWeight": "bold", "fontSize": 17, "color": "#000"}, "encoding": {"text": {"field": "t"}}},
{"data": {"values": [{"p": 1290, "c": 2.09, "t": "242 bps"}, {"p": 1549.5, "c": 2.09, "t": "60 bps"}, {"p": 2301, "c": 2.09, "t": "119 bps"}, {"p": 1287, "c": 3.343, "t": "79,3 %"}, {"p": 1568, "c": 3.343, "t": "76,7 %"}, {"p": 2295, "c": 3.343, "t": "76,5 %"}]}, "mark": {"type": "text", "align": "center", "baseline": "middle", "font": "DejaVu Sans", "fontWeight": "bold", "fontSize": 17, "color": "#000"}, "encoding": {"text": {"field": "t"}}}
]
}
]
}
